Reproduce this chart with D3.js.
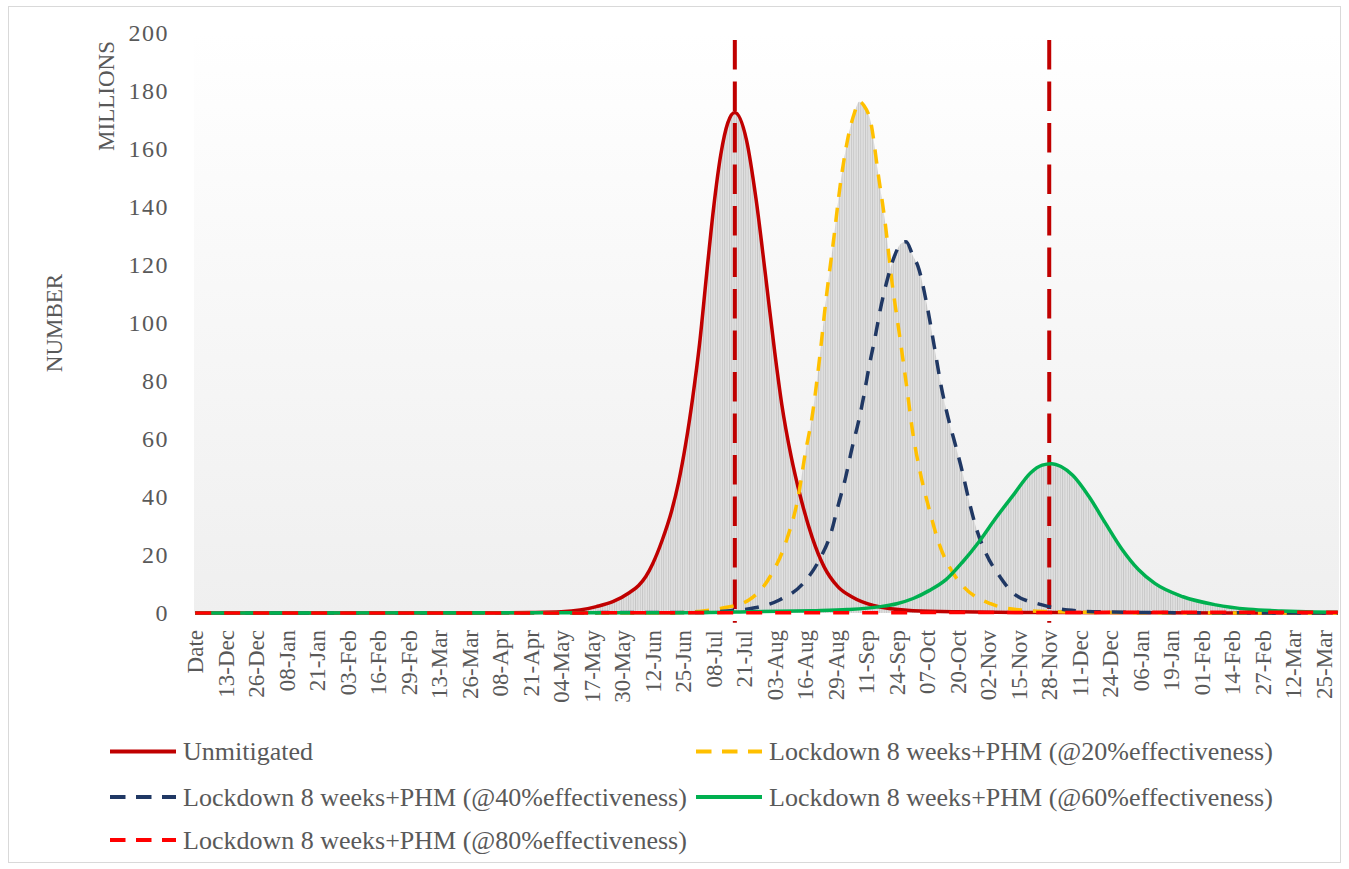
<!DOCTYPE html>
<html>
<head>
<meta charset="utf-8">
<script src="https://cdn.jsdelivr.net/npm/d3@7/dist/d3.min.js"></script>
<style>
  html, body { margin: 0; padding: 0; background: #ffffff; }
  svg { display: block; }
  text { font-family: "Liberation Serif", "Times New Roman", serif; fill: #595959; }
</style>
</head>
<body>
<div id="chart"></div>
<script>
// ---------------- DATA ----------------
const tickLabels = ["Date","13-Dec","26-Dec","08-Jan","21-Jan","03-Feb","16-Feb","29-Feb","13-Mar","26-Mar",
  "08-Apr","21-Apr","04-May","17-May","30-May","12-Jun","25-Jun","08-Jul","21-Jul","03-Aug","16-Aug",
  "29-Aug","11-Sep","24-Sep","07-Oct","20-Oct","02-Nov","15-Nov","28-Nov","11-Dec","24-Dec","06-Jan",
  "19-Jan","01-Feb","14-Feb","27-Feb","12-Mar","25-Mar"];
const tickEvery = 13;
const yTicks = [0, 20, 40, 60, 80, 100, 120, 140, 160, 180, 200];
const firstDay = "2019-12-01", lastDay = "2021-03-31";

const seriesNames = ["Unmitigated",
  "Lockdown 8 weeks+PHM (@20%effectiveness)",
  "Lockdown 8 weeks+PHM (@40%effectiveness)",
  "Lockdown 8 weeks+PHM (@60%effectiveness)",
  "Lockdown 8 weeks+PHM (@80%effectiveness)"];

const unmitigatedDates = ["Date","2019-12-01","2020-03-15","2020-04-05","2020-04-21","2020-05-04","2020-05-12","2020-05-19",
  "2020-05-26","2020-06-02","2020-06-06","2020-06-09","2020-06-12","2020-06-16","2020-06-20","2020-06-23","2020-06-26",
  "2020-06-29","2020-07-02","2020-07-05","2020-07-08","2020-07-11","2020-07-14","2020-07-17","2020-07-22","2020-07-26",
  "2020-07-30","2020-08-03","2020-08-06","2020-08-10","2020-08-14","2020-08-19","2020-08-24","2020-08-30","2020-09-05",
  "2020-09-14","2020-10-01","2020-10-20","2020-11-28","2021-01-15","2021-03-31"];
const unmitigatedValues = [0,0,0,0.05,0.15,0.4,1.0,2.2,
  3.9,7,9.5,12.5,17,25,35,45,58,
  74,93,117,140,158,169,172.6,163,143,
  117,90,72,54,40,26,16,9,5.5,
  2.6,0.8,0.4,0.15,0.05,0];

const eff20Dates = ["Date","2019-12-01","2020-06-20","2020-07-01","2020-07-12","2020-07-23","2020-08-01","2020-08-08",
  "2020-08-13","2020-08-16","2020-08-19","2020-08-22","2020-08-25","2020-08-28","2020-08-31","2020-09-03","2020-09-06",
  "2020-09-08","2020-09-10","2020-09-13","2020-09-16","2020-09-19","2020-09-22","2020-09-25","2020-09-28","2020-10-01",
  "2020-10-04","2020-10-08","2020-10-12","2020-10-18","2020-10-22","2020-11-03","2020-11-16","2020-11-28","2020-12-20",
  "2021-02-01","2021-03-31"];
const eff20Values = [0,0,0,0.5,1.7,4.5,12.5,25,
  40,55,68,87,109,128,148,163,172.5,
  176.3,175,169,152,135,114,97,79.5,61.4,
  48.5,35.3,24,13.8,9.5,3.2,1.0,0.5,0.2,
  0.05,0];

const eff40Dates = ["Date","2019-12-01","2020-07-01","2020-07-15","2020-07-25","2020-08-05","2020-08-15","2020-08-22",
  "2020-08-27","2020-08-30","2020-09-02","2020-09-05","2020-09-08","2020-09-10","2020-09-12","2020-09-15","2020-09-17",
  "2020-09-20","2020-09-23","2020-09-26","2020-09-28","2020-10-01","2020-10-03","2020-10-07","2020-10-10","2020-10-13",
  "2020-10-16","2020-10-19","2020-10-22","2020-10-25","2020-10-28","2020-11-01","2020-11-07","2020-11-13","2020-11-25",
  "2020-12-06","2020-12-20","2021-01-15","2021-03-31"];
const eff40Values = [0,0,0.2,0.8,1.7,4.5,10.1,18.3,
  27.6,37,46,57,67,75,84,96,104.6,
  115,123,127.5,128,123,119.7,105.7,92,78,
  67,58,48.6,38,29,20.6,12.5,6.6,2.8,
  1,0.4,0.15,0];

const eff60Dates = ["Date","2019-12-01","2020-05-01","2020-06-23","2020-07-23","2020-08-19","2020-09-03","2020-09-17",
  "2020-09-24","2020-10-01","2020-10-08","2020-10-15","2020-10-22","2020-10-29","2020-11-05","2020-11-13","2020-11-20",
  "2020-11-25","2020-11-29","2020-12-03","2020-12-08","2020-12-15","2020-12-22","2020-12-29","2021-01-05","2021-01-12",
  "2021-01-24","2021-02-07","2021-02-21","2021-03-07","2021-03-21","2021-03-31"];
const eff60Values = [0,0,0.05,0.1,0.4,0.8,1.2,2.2,
  3.2,5,7.8,11.5,17.5,24.5,32.5,41,48.3,
  51,51.5,50.5,47.5,40.1,30.9,22,15,10.2,
  5.6,2.8,1.3,0.7,0.35,0.25];

const eff80Dates = ["Date","2019-12-01","2020-06-01","2020-09-01","2020-12-01","2021-03-31"];
const eff80Values = [0,0,0.05,0.1,0.2,0.3];

const markerDates = ["2020-07-17", "2020-11-28"];
const markerRange = [-3.4, 197.6];

// ---------------- LAYOUT ----------------
const W = 1349, H = 869;
const plot = { left: 194, right: 1339, top: 33, bottom: 613 };

const fmtISO = d3.timeFormat("%Y-%m-%d");
const parseISO = d3.timeParse("%Y-%m-%d");
const categories = ["Date"].concat(
  d3.timeDay.range(parseISO(firstDay), d3.timeDay.offset(parseISO(lastDay), 1)).map(fmtISO));

const xBand = d3.scaleBand().domain(categories).range([plot.left, plot.right]).padding(0);
const x = c => xBand(c) + xBand.bandwidth() / 2;
const y = d3.scaleLinear().domain([0, 200]).range([plot.bottom, plot.top]);

const svg = d3.select("#chart").append("svg").attr("width", W).attr("height", H);
const defs = svg.append("defs");

const grad = defs.append("linearGradient").attr("id", "bg").attr("x1", 0).attr("y1", 0).attr("x2", 0).attr("y2", 1);
grad.append("stop").attr("offset", "0%").attr("stop-color", "#ffffff");
grad.append("stop").attr("offset", "100%").attr("stop-color", "#efefef");

const bw = xBand.bandwidth();
const pat = defs.append("pattern").attr("id", "drop").attr("patternUnits", "userSpaceOnUse")
  .attr("x", plot.left).attr("y", 0).attr("width", bw).attr("height", 20);
pat.append("rect").attr("width", bw).attr("height", 20).attr("fill", "#e1e1e1");
pat.append("rect").attr("x", 0).attr("width", 0.9).attr("height", 20).attr("fill", "#c6c6c6");

// outer chart border
svg.append("rect").attr("x", 8.5).attr("y", 6.5).attr("width", W - 17).attr("height", H - 13)
  .attr("fill", "none").attr("stroke", "#d9d9d9").attr("stroke-width", 1);

// plot background
svg.append("rect").attr("x", plot.left).attr("y", plot.top)
  .attr("width", plot.right - plot.left).attr("height", plot.bottom - plot.top)
  .attr("fill", "url(#bg)");

const series = [
  { name: seriesNames[0], dates: unmitigatedDates, values: unmitigatedValues, color: "#c00000", dash: null },
  { name: seriesNames[1], dates: eff20Dates, values: eff20Values, color: "#ffc000", dash: "14,11" },
  { name: seriesNames[2], dates: eff40Dates, values: eff40Values, color: "#203864", dash: "14,11" },
  { name: seriesNames[3], dates: eff60Dates, values: eff60Values, color: "#00b050", dash: null },
  { name: seriesNames[4], dates: eff80Dates, values: eff80Values, color: "#ff0000", dash: "16,13" }
];
series.forEach(s => { s.points = s.dates.map((c, i) => ({ c: c, v: s.values[i] })); });

const area = d3.area().x(d => x(d.c)).y0(y(0)).y1(d => y(d.v)).curve(d3.curveMonotoneX);
const line = d3.line().x(d => x(d.c)).y(d => y(d.v)).curve(d3.curveMonotoneX);

// grey drop-line fill (union of areas under the series)
svg.append("g").selectAll("path").data(series).join("path")
  .attr("d", s => area(s.points)).attr("fill", "url(#drop)").attr("stroke", "none");

// vertical marker lines
svg.append("g").selectAll("line").data(markerDates).join("line")
  .attr("x1", d => x(d)).attr("x2", d => x(d))
  .attr("y1", y(markerRange[1])).attr("y2", y(markerRange[0]))
  .attr("stroke", "#c00000").attr("stroke-width", 4).attr("stroke-dasharray", "29.5,12");

// series lines
svg.append("g").selectAll("path").data(series).join("path")
  .attr("d", s => line(s.points)).attr("fill", "none")
  .attr("stroke", s => s.color).attr("stroke-width", 3.5)
  .attr("stroke-linejoin", "round")
  .attr("stroke-dasharray", s => s.dash);

// y-axis tick labels
svg.append("g").selectAll("text").data(yTicks).join("text")
  .attr("x", 169).attr("y", d => y(d)).attr("dy", "0.35em")
  .attr("text-anchor", "end").attr("font-size", 24).attr("letter-spacing", 1.5)
  .text(d => d);

// x-axis tick labels
svg.append("g").selectAll("text").data(tickLabels).join("text")
  .attr("transform", (d, i) => `translate(${x(categories[i * tickEvery])},630) rotate(-90)`)
  .attr("dy", "0.35em").attr("text-anchor", "end").attr("font-size", 23)
  .text(d => d);

// axis titles
svg.append("text").attr("transform", "translate(114,96) rotate(-90)")
  .attr("text-anchor", "middle").attr("font-size", 23).text("MILLIONS");
svg.append("text").attr("transform", "translate(62,323) rotate(-90)")
  .attr("text-anchor", "middle").attr("font-size", 23).text("NUMBER");

// legend
const legendCols = [110, 696], legendRows = [751.5, 797, 840];
const legend = svg.append("g").selectAll("g").data(series).join("g")
  .attr("transform", (s, i) => `translate(${legendCols[i % 2]},${legendRows[Math.floor(i / 2)]})`);
legend.append("line").attr("x1", 0).attr("x2", 66).attr("y1", 0).attr("y2", 0)
  .attr("stroke", s => s.color).attr("stroke-width", 4)
  .attr("stroke-dasharray", s => s.dash ? "15.5,10.5" : null);
legend.append("text").attr("x", 73).attr("y", 8.5).attr("font-size", 26).text(s => s.name);
</script>
</body>
</html>
